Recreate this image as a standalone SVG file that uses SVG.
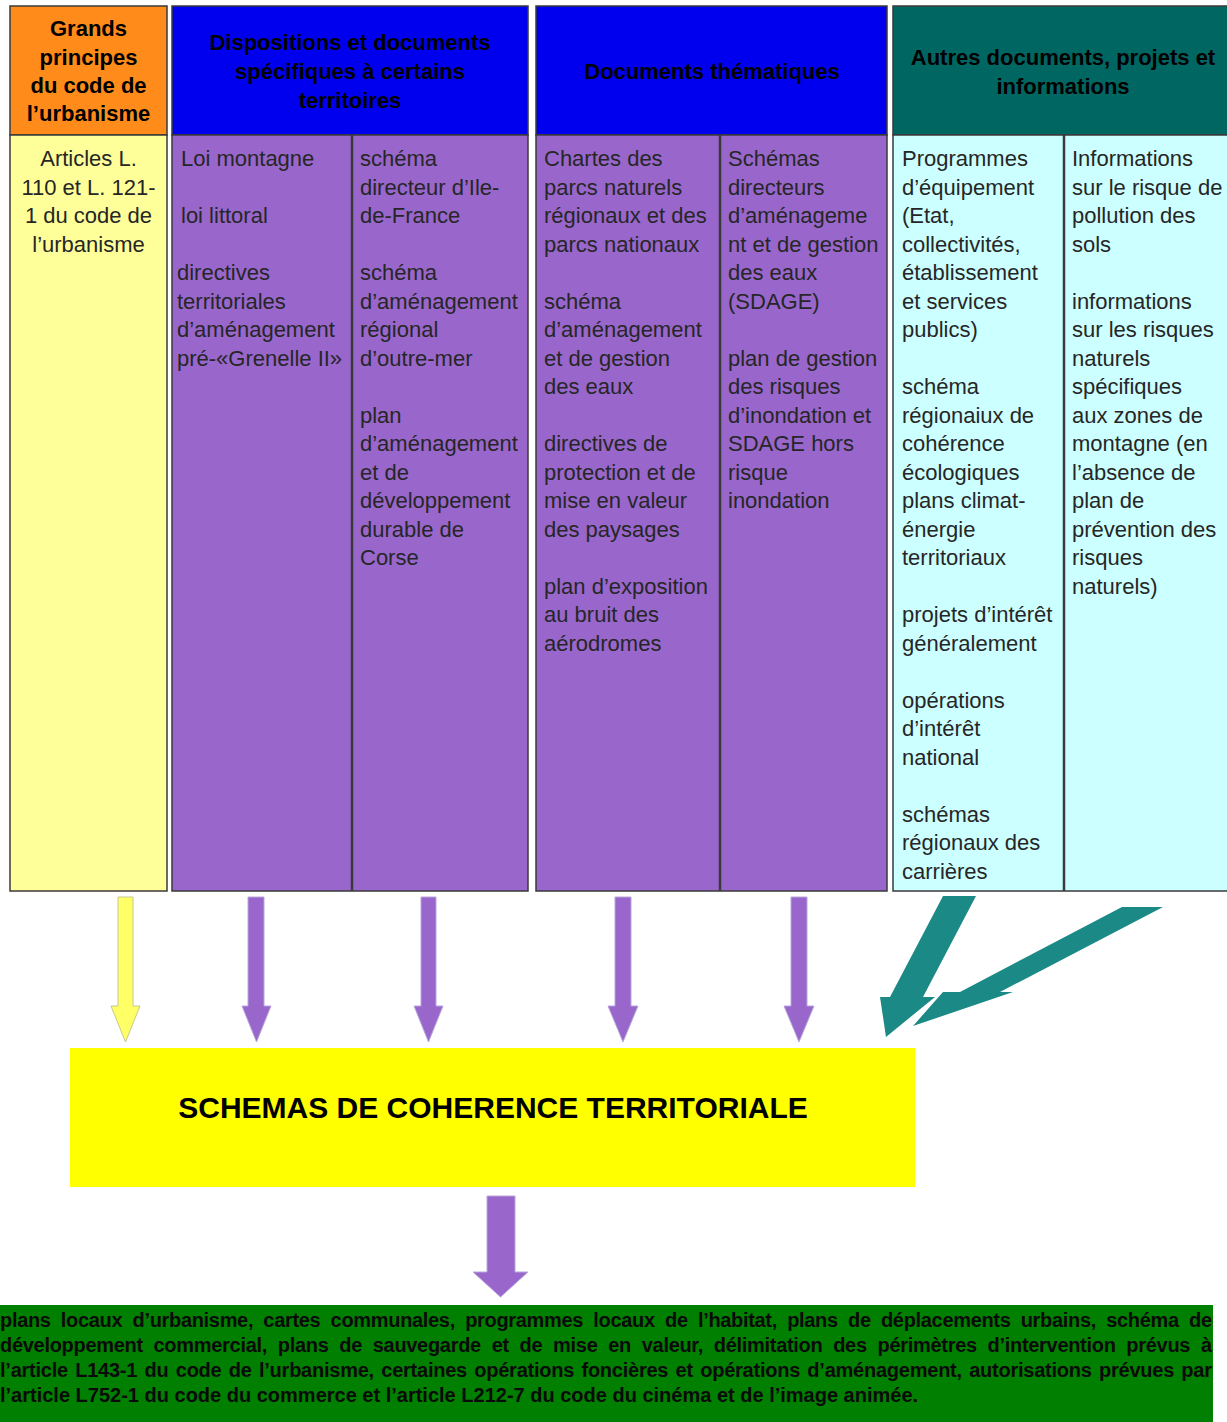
<svg xmlns="http://www.w3.org/2000/svg" width="1227" height="1422" viewBox="0 0 1227 1422">
<defs>
<style>
.hd{font-family:"Liberation Sans",Arial,sans-serif;font-size:22px;font-weight:bold;fill:#000;text-anchor:middle}
.bd{font-family:"Liberation Sans",Arial,sans-serif;font-size:22px;fill:#262626}
.cell{stroke:#3a3a3a;stroke-width:1.5}
.div{stroke:#3a3a3a;stroke-width:2.5}
.parr{fill:#9966cc;stroke:#b9a6dc;stroke-width:1}
.tarr{fill:#1b8985}
.bt{font-family:"Liberation Sans",Arial,sans-serif;font-size:20px;font-weight:bold;fill:#0a0a0a}
</style>
</defs>
<rect x="0" y="0" width="1227" height="1422" fill="#fff"/>

<g id="col-principes">
<rect class="cell" x="10" y="6" width="157" height="129" fill="#ff8c1a"/>
<rect class="cell" x="10" y="135" width="157" height="756" fill="#ffff99"/>
<text class="hd"><tspan x="88.5" y="36">Grands</tspan><tspan x="88.5" y="65">principes</tspan><tspan x="88.5" y="93">du code de</tspan><tspan x="88.5" y="121">l’urbanisme</tspan></text>
<text class="bd" text-anchor="middle"><tspan x="88.5" y="166">Articles L.</tspan><tspan x="88.5" y="194.5">110 et L. 121-</tspan><tspan x="88.5" y="223">1 du code de</tspan><tspan x="88.5" y="251.5">l’urbanisme</tspan></text>
</g>

<g id="col-dispositions">
<rect class="cell" x="172" y="6" width="356" height="129" fill="#0000ee"/>
<rect class="cell" x="172" y="135" width="356" height="756" fill="#9966cc"/>
<line class="div" x1="352" y1="135" x2="352" y2="891"/>
<text class="hd"><tspan x="350" y="50">Dispositions et documents</tspan><tspan x="350" y="79">spécifiques à certains</tspan><tspan x="350" y="108">territoires</tspan></text>
<text class="bd"><tspan x="181" y="166">Loi montagne</tspan><tspan x="181" y="223">loi littoral</tspan><tspan x="177" y="280">directives</tspan><tspan x="177" y="308.5">territoriales</tspan><tspan x="177" y="337">d’aménagement</tspan><tspan x="177" y="365.5">pré-«Grenelle II»</tspan></text>
<text class="bd"><tspan x="360" y="166">schéma</tspan><tspan x="360" y="194.5">directeur d’Ile-</tspan><tspan x="360" y="223">de-France</tspan><tspan x="360" y="280">schéma</tspan><tspan x="360" y="308.5">d’aménagement</tspan><tspan x="360" y="337">régional</tspan><tspan x="360" y="365.5">d’outre-mer</tspan><tspan x="360" y="422.5">plan</tspan><tspan x="360" y="451">d’aménagement</tspan><tspan x="360" y="479.5">et de</tspan><tspan x="360" y="508">développement</tspan><tspan x="360" y="536.5">durable de</tspan><tspan x="360" y="565">Corse</tspan></text>
</g>

<g id="col-thematiques">
<rect class="cell" x="536" y="6" width="351" height="129" fill="#0000ee"/>
<rect class="cell" x="536" y="135" width="351" height="756" fill="#9966cc"/>
<line class="div" x1="720" y1="135" x2="720" y2="891"/>
<text class="hd"><tspan x="712" y="79">Documents thématiques</tspan></text>
<text class="bd"><tspan x="544" y="166">Chartes des</tspan><tspan x="544" y="194.5">parcs naturels</tspan><tspan x="544" y="223">régionaux et des</tspan><tspan x="544" y="251.5">parcs nationaux</tspan><tspan x="544" y="308.5">schéma</tspan><tspan x="544" y="337">d’aménagement</tspan><tspan x="544" y="365.5">et de gestion</tspan><tspan x="544" y="394">des eaux</tspan><tspan x="544" y="451">directives de</tspan><tspan x="544" y="479.5">protection et de</tspan><tspan x="544" y="508">mise en valeur</tspan><tspan x="544" y="536.5">des paysages</tspan><tspan x="544" y="593.5">plan d’exposition</tspan><tspan x="544" y="622">au bruit des</tspan><tspan x="544" y="650.5">aérodromes</tspan></text>
<text class="bd"><tspan x="728" y="166">Schémas</tspan><tspan x="728" y="194.5">directeurs</tspan><tspan x="728" y="223">d’aménageme</tspan><tspan x="728" y="251.5">nt et de gestion</tspan><tspan x="728" y="280">des eaux</tspan><tspan x="728" y="308.5">(SDAGE)</tspan><tspan x="728" y="365.5">plan de gestion</tspan><tspan x="728" y="394">des risques</tspan><tspan x="728" y="422.5">d’inondation et</tspan><tspan x="728" y="451">SDAGE hors</tspan><tspan x="728" y="479.5">risque</tspan><tspan x="728" y="508">inondation</tspan></text>
</g>

<g id="col-autres">
<rect class="cell" x="893" y="6" width="336" height="129" fill="#006662"/>
<rect class="cell" x="893" y="135" width="336" height="756" fill="#ccffff"/>
<line class="div" x1="1064" y1="135" x2="1064" y2="891" stroke="#555"/>
<text class="hd"><tspan x="1063" y="65">Autres documents, projets et</tspan><tspan x="1063" y="94">informations</tspan></text>
<text class="bd"><tspan x="902" y="166">Programmes</tspan><tspan x="902" y="194.5">d’équipement</tspan><tspan x="902" y="223">(Etat,</tspan><tspan x="902" y="251.5">collectivités,</tspan><tspan x="902" y="280">établissement</tspan><tspan x="902" y="308.5">et services</tspan><tspan x="902" y="337">publics)</tspan><tspan x="902" y="394">schéma</tspan><tspan x="902" y="422.5">régionaiux de</tspan><tspan x="902" y="451">cohérence</tspan><tspan x="902" y="479.5">écologiques</tspan><tspan x="902" y="508">plans climat-</tspan><tspan x="902" y="536.5">énergie</tspan><tspan x="902" y="565">territoriaux</tspan><tspan x="902" y="622">projets d’intérêt</tspan><tspan x="902" y="650.5">généralement</tspan><tspan x="902" y="707.5">opérations</tspan><tspan x="902" y="736">d’intérêt</tspan><tspan x="902" y="764.5">national</tspan><tspan x="902" y="821.5">schémas</tspan><tspan x="902" y="850">régionaux des</tspan><tspan x="902" y="878.5">carrières</tspan></text>
<text class="bd"><tspan x="1072" y="166">Informations</tspan><tspan x="1072" y="194.5">sur le risque de</tspan><tspan x="1072" y="223">pollution des</tspan><tspan x="1072" y="251.5">sols</tspan><tspan x="1072" y="308.5">informations</tspan><tspan x="1072" y="337">sur les risques</tspan><tspan x="1072" y="365.5">naturels</tspan><tspan x="1072" y="394">spécifiques</tspan><tspan x="1072" y="422.5">aux zones de</tspan><tspan x="1072" y="451">montagne (en</tspan><tspan x="1072" y="479.5">l’absence de</tspan><tspan x="1072" y="508">plan de</tspan><tspan x="1072" y="536.5">prévention des</tspan><tspan x="1072" y="565">risques</tspan><tspan x="1072" y="593.5">naturels)</tspan></text>
</g>

<g id="scot">
<rect x="70" y="1048" width="845" height="139" fill="#ffff00"/>
<text x="493" y="1118" text-anchor="middle" style="font-family:'Liberation Sans',Arial,sans-serif;font-size:30px;font-weight:bold;fill:#000">SCHEMAS DE COHERENCE TERRITORIALE</text>
</g>

<g id="documents-locaux">
<rect x="0" y="1305" width="1213" height="117" fill="#007f00"/>
<text class="bt" x="0" y="1327" word-spacing="5" textLength="1212" lengthAdjust="spacing">plans locaux d’urbanisme, cartes communales, programmes locaux de l’habitat, plans de déplacements urbains, schéma de</text>
<text class="bt" x="0" y="1352" word-spacing="5.5" textLength="1212" lengthAdjust="spacing">développement commercial, plans de sauvegarde et de mise en valeur, délimitation des périmètres d’intervention prévus à</text>
<text class="bt" x="0" y="1377" word-spacing="2" textLength="1212" lengthAdjust="spacing">l’article L143-1 du code de l’urbanisme, certaines opérations foncières et opérations d’aménagement, autorisations prévues par</text>
<text class="bt" x="0" y="1402">l’article L752-1 du code du commerce et l’article L212-7 du code du cinéma et de l’image animée.</text>
</g>

<g id="connectors">
<polygon points="118,897 133,897 133,1006 140,1006 125.5,1042 111,1006 118,1006" fill="#ffff66" stroke="#c8c890" stroke-width="1"/>
<polygon class="parr" points="248,897 264,897 264,1006 271,1006 256.5,1042 242,1006 248,1006"/>
<polygon class="parr" points="421,897 436,897 436,1006 443,1006 428.5,1042 414,1006 421,1006"/>
<polygon class="parr" points="615,897 631,897 631,1006 638,1006 623,1042 608,1006 615,1006"/>
<polygon class="parr" points="791,897 807,897 807,1006 814,1006 799,1042 784,1006 791,1006"/>
<polygon class="tarr" points="943,896 976,896 923,997 935,997 886,1037 880,997 890,997"/>
<polygon class="tarr" points="1122,907 1163,907 1000,992 1013,992 913,1026 943,992 960,992"/>
<polygon class="parr" points="487,1196 515,1196 515,1272 528,1272 500.5,1297 473,1272 487,1272"/>
</g>
</svg>
